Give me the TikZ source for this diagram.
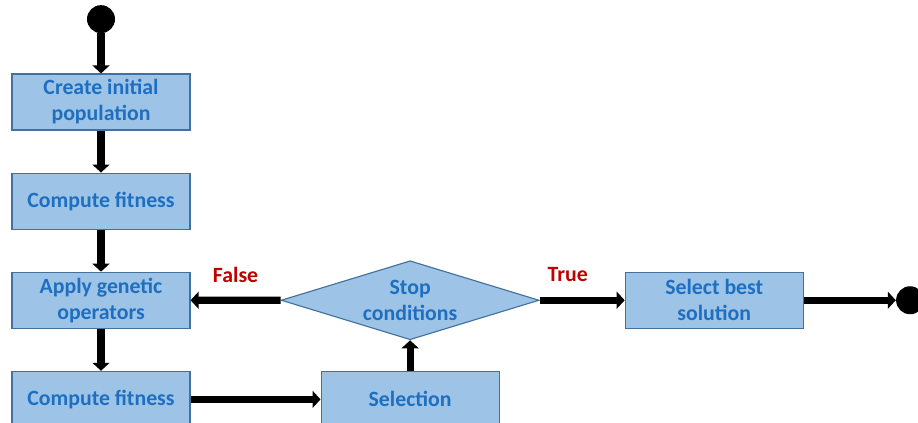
\documentclass[tikz,border=0pt]{standalone}
\usepackage{fontspec}
\setmainfont{Carlito}
\usepackage{xcolor}
\usetikzlibrary{arrows.meta,positioning,shapes.geometric}
\definecolor{boxfill}{HTML}{9DC3E6}
\definecolor{boxline}{HTML}{41719C}
\definecolor{boxtext}{HTML}{1F6FC1}
\definecolor{labred}{HTML}{C00000}

\begin{document}
\begin{tikzpicture}[node distance=10.5mm and 32.5mm,
  box/.style={draw=boxline, fill=boxfill, line width=0.8pt, align=center, font=\fontsize{15.5}{18.5}\selectfont\bfseries, text=boxtext, minimum width=4.45cm, minimum height=1.4cm, inner sep=2pt},
  cond/.style={diamond, aspect=3.27, draw=boxline, fill=boxfill, line width=0.8pt, align=center, font=\fontsize{15.5}{18.5}\selectfont\bfseries, text=boxtext, minimum width=6.45cm, minimum height=1.975cm, inner sep=0pt},
  dot/.style={circle, fill=black, minimum size=7mm, inner sep=0pt},
  arr/.style={-{Triangle[length=2mm, width=4.2mm]}, line width=5pt},
  lab/.style={font=\fontsize{15.5}{18.5}\selectfont\bfseries, text=labred}]
  \useasboundingbox (0,0) rectangle (22.95,-10.575);
  \node[box] (init) at (2.525,-2.55) {Create initial\\population};
  \node[dot, above=10mm of init] (start) {};
  \node[box, below=of init] (fit1) {Compute fitness};
  \node[box, below=of fit1] (ops) {Apply genetic\\operators};
  \node[box, below=of ops] (fit2) {Compute fitness};
  \node[box, right=of fit2] (sel) {Selection};
  \node[cond, above=7.625mm of sel] (stop) {Stop\\conditions};
  \node[box, right=21.25mm of stop] (best) {Select best\\solution};
  \node[dot, right=23mm of best] (finish) {};
  \draw[arr] (start) -- (init);
  \foreach \a/\b in {init/fit1, fit1/ops, ops/fit2, fit2/sel, sel/stop, best/finish} \draw[arr] (\a) -- (\b);
  \draw[arr] (stop) -- node[lab, above=2.4mm] {False} (ops);
  \draw[arr] (stop) -- node[lab, above=2.6mm, pos=0.33] {True} (best);
\end{tikzpicture}
\end{document}
